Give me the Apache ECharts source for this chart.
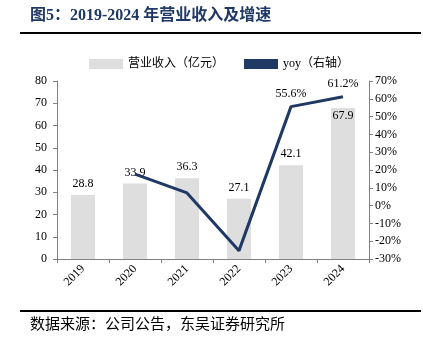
<!DOCTYPE html>
<html><head><meta charset="utf-8">
<script src="https://cdn.jsdelivr.net/npm/echarts@6/dist/echarts.min.js"></script>
<style>html,body{margin:0;padding:0;background:#fff}#c{width:423px;height:350px}</style>
</head><body><div id="c"></div>
<script>
const categories = ['2019','2020','2021','2022','2023','2024'];
const revenue = [28.8, 33.9, 36.3, 27.1, 42.1, 67.9];
const yoy = [null, 17.7, 7.1, -25.3, 55.6, 61.2];
const yoyLabels = [null, null, null, null, '55.6%', '61.2%'];
const leftTicks = [0, 80, 10];
const rightTicks = [-30, 70, 10];

const serif = '"Liberation Serif","Times New Roman","Noto Sans CJK SC",serif';
const barData = revenue.map((v, i) => i === revenue.length - 1
  ? { value: v, label: { position: 'insideTop', distance: 2 } }
  : v);
const chart = echarts.init(document.getElementById('c'));
chart.setOption({
  animation: false,
  textStyle: { fontFamily: serif },
  graphic: [
    { type: 'text', left: 30, top: 8, style: { text: '图5：2019-2024 年营业收入及增速', font: 'bold 16px ' + serif, fill: '#1f3864' } },
    { type: 'line', shape: { x1: 20, y1: 33, x2: 421, y2: 33 }, style: { stroke: '#000', lineWidth: 2 } },
    { type: 'line', shape: { x1: 20, y1: 311, x2: 421, y2: 311 }, style: { stroke: '#000', lineWidth: 2 } },
    { type: 'text', left: 30, top: 318, style: { text: '数据来源：公司公告，东吴证券研究所', font: '15px ' + serif, fill: '#000' } }
  ],
  legend: {
    top: 53, left: 84,
    itemWidth: 34, itemHeight: 10, itemGap: 20,
    textStyle: { fontSize: 12, color: '#000', fontFamily: serif },
    data: [
      { name: '营业收入（亿元）', icon: 'rect' },
      { name: 'yoy（右轴）', icon: 'rect', itemStyle: { color: '#1f3864' } }
    ]
  },
  grid: { left: 57, right: 54, top: 81, bottom: 91 },
  xAxis: {
    type: 'category', data: categories, boundaryGap: true,
    axisLine: { lineStyle: { color: '#808080' } },
    axisTick: { show: true, inside: false, length: 4, lineStyle: { color: '#808080' } },
    axisLabel: { rotate: 45, color: '#000', fontSize: 12, fontFamily: serif, margin: 8 }
  },
  yAxis: [
    { type: 'value', min: leftTicks[0], max: leftTicks[1], interval: leftTicks[2],
      axisLine: { show: true, lineStyle: { color: '#808080' } },
      axisTick: { show: true, length: 4, lineStyle: { color: '#808080' } },
      splitLine: { show: false },
      axisLabel: { color: '#000', fontSize: 12, fontFamily: serif, margin: 10 } },
    { type: 'value', min: rightTicks[0], max: rightTicks[1], interval: rightTicks[2],
      axisLine: { show: true, lineStyle: { color: '#808080' } },
      axisTick: { show: true, length: 4, lineStyle: { color: '#808080' } },
      splitLine: { show: false },
      axisLabel: { color: '#000', fontSize: 12, fontFamily: serif, formatter: '{value}%', margin: 6 } }
  ],
  series: [
    { name: '营业收入（亿元）', type: 'bar', data: barData, barWidth: 24,
      itemStyle: { color: '#dedede' },
      label: { show: true, position: 'top', distance: 5, color: '#000', fontSize: 12, fontFamily: serif, formatter: p => p.value.toFixed(1) } },
    { name: 'yoy（右轴）', type: 'line', yAxisIndex: 1, data: yoy, symbol: 'circle', symbolSize: 0.01,
      lineStyle: { color: '#1f3864', width: 3 }, itemStyle: { color: '#1f3864' },
      label: { show: true, position: 'top', distance: 7, color: '#000', fontSize: 12, fontFamily: serif,
        formatter: p => yoyLabels[p.dataIndex] || '' } }
  ]
});
</script></body></html>
